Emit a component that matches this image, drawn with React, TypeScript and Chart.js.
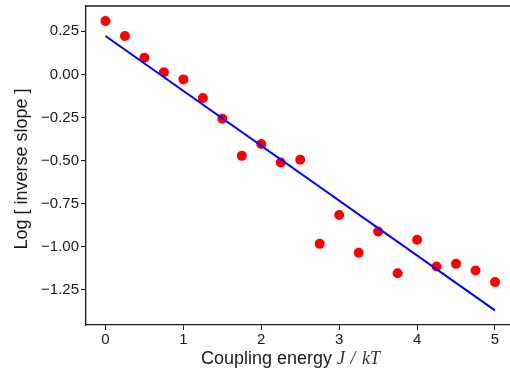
import React, { useEffect, useRef } from "react";
import { Chart, registerables } from "chart.js";

Chart.register(...registerables);

const couplingJ = [0, 0.25, 0.5, 0.75, 1, 1.25, 1.5, 1.75, 2, 2.25, 2.5, 2.75, 3, 3.25, 3.5, 3.75, 4, 4.25, 4.5, 4.75, 5];
const logInvSlope = [0.31, 0.223, 0.097, 0.012, -0.029, -0.137, -0.257, -0.473, -0.404, -0.512, -0.495, -0.984, -0.816, -1.036, -0.912, -1.155, -0.96, -1.115, -1.1, -1.139, -1.206];
const fitX = [0, 5];
const fitY = [0.223, -1.37];
const xTicks = [0, 1, 2, 3, 4, 5];
const yTicks = [0.25, 0, -0.25, -0.5, -0.75, -1, -1.25];
const xTitleMain = "Coupling energy ";
const xTitleMath = "J / kT";
const yTitle = "Log [ inverse slope ]";

const W = 510;
const H = 373;
const SANS = "'Liberation Sans', Arial, Helvetica, sans-serif";
const SERIF = "'Liberation Serif', 'Times New Roman', serif";
const INK = "#1a1a1a";

const titlesPlugin = {
  id: "titles",
  afterDraw(chart: any) {
    const ctx = chart.ctx;
    const a = chart.chartArea;
    ctx.save();
    // top spine
    ctx.strokeStyle = INK;
    ctx.lineWidth = 1.3;
    ctx.beginPath();
    ctx.moveTo(a.left, a.top);
    ctx.lineTo(a.right, a.top);
    ctx.stroke();
    // x title
    ctx.fillStyle = INK;
    ctx.textBaseline = "alphabetic";
    ctx.textAlign = "left";
    ctx.font = `18px ${SANS}`;
    const w1 = ctx.measureText(xTitleMain).width;
    ctx.font = `italic 18px ${SERIF}`;
    const w2 = ctx.measureText(xTitleMath).width + 4;
    const cx = 291;
    const x0 = cx - (w1 + w2) / 2;
    ctx.font = `18px ${SANS}`;
    ctx.fillText(xTitleMain, x0, 364);
    ctx.font = `italic 18px ${SERIF}`;
    ctx.fillStyle = "#333";
    ctx.fillText("J", x0 + w1, 364);
    const wJ = ctx.measureText("J ").width;
    ctx.fillText("/", x0 + w1 + wJ + 1, 364);
    const wS = ctx.measureText("/ ").width;
    ctx.fillText("kT", x0 + w1 + wJ + wS + 3, 364);
    // y title
    ctx.fillStyle = INK;
    ctx.translate(22, 169);
    ctx.rotate(-Math.PI / 2);
    ctx.font = `18px ${SANS}`;
    ctx.textAlign = "center";
    ctx.textBaseline = "middle";
    ctx.fillText(yTitle, 0, 0);
    ctx.restore();
  },
};

const zeroPad = (s: any) => {
  s.paddingTop = 0;
  s.paddingBottom = 0;
  s.paddingLeft = 0;
  s.paddingRight = 0;
};

export default function App() {
  const ref = useRef<HTMLCanvasElement | null>(null);
  useEffect(() => {
    if (!ref.current) return;
    const chart = new Chart(ref.current, {
      type: "scatter",
      data: {
        datasets: [
          {
            type: "line",
            data: fitX.map((x, i) => ({ x, y: fitY[i] })),
            borderColor: "#0000ff",
            borderWidth: 2,
            pointRadius: 0,
            showLine: true,
            fill: false,
            order: 0,
          } as any,
          {
            data: couplingJ.map((x, i) => ({ x, y: logInvSlope[i] })),
            backgroundColor: "#ff0000",
            borderWidth: 0,
            pointRadius: 5,
            order: 1,
          },
        ],
      },
      options: {
        responsive: false,
        animation: false,
        devicePixelRatio: 1,
        layout: { autoPadding: false, padding: { top: 6, right: 0, left: 0, bottom: 0 } },
        plugins: { legend: { display: false }, tooltip: { enabled: false } },
        scales: {
          x: {
            type: "linear",
            min: -0.25,
            max: (W - 105.5) / 77.9 - 0.25 + 0.25,
            afterBuildTicks: (s: any) => {
              s.ticks = xTicks.map((v) => ({ value: v }));
            },
            afterFit: (s: any) => {
              s.height = 48;
              zeroPad(s);
            },
            grid: { display: true, drawOnChartArea: false, drawTicks: true, tickLength: 5, tickColor: INK, tickWidth: 1 },
            border: { display: true, color: INK, width: 1.3 },
            ticks: {
              font: { family: SANS, size: 15 },
              color: INK,
              padding: 1,
              maxRotation: 0,
              callback: (v: any) => String(v),
            },
          },
          y: {
            type: "linear",
            min: -1.455,
            max: 0.397,
            afterBuildTicks: (s: any) => {
              s.ticks = yTicks.map((v) => ({ value: v }));
            },
            afterFit: (s: any) => {
              s.width = 86;
              zeroPad(s);
            },
            grid: { display: true, drawOnChartArea: false, drawTicks: true, tickLength: 5, tickColor: INK, tickWidth: 1 },
            border: { display: true, color: INK, width: 1.3 },
            ticks: {
              font: { family: SANS, size: 15 },
              color: INK,
              padding: 2,
              callback: (v: any) => {
                const n = Number(v);
                const s = Math.abs(n).toFixed(2);
                return n < 0 ? "\u2212" + s : s;
              },
            },
          },
        },
      },
      plugins: [titlesPlugin],
    });
    return () => chart.destroy();
  }, []);
  return (
    <div style={{ position: "fixed", left: 0, top: 0, width: W, height: H, overflow: "hidden", background: "#fff" }}>
      <canvas ref={ref} width={W} height={H} style={{ display: "block", width: W, height: H }} />
    </div>
  );
}
